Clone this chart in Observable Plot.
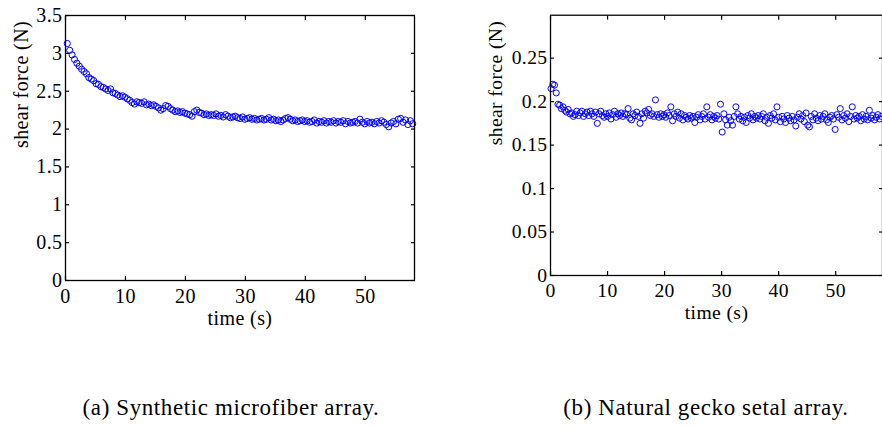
<!DOCTYPE html>
<html>
<head>
<meta charset="utf-8">
<script src="https://cdn.jsdelivr.net/npm/d3@7"></script>
<script src="https://cdn.jsdelivr.net/npm/@observablehq/plot@0.6"></script>
<style>
  html, body { margin: 0; padding: 0; background: #fff; overflow: hidden; }
  #page { position: relative; width: 882px; height: 428px; overflow: hidden; }
  .panel { position: absolute; top: 0; }
  .caption { position: absolute; top: 396px; line-height: 23px; font-family: "Liberation Serif", "Times New Roman", Times, "DejaVu Serif", serif; font-size: 23px; letter-spacing: 0.6px; color: #000; white-space: nowrap; transform: translateX(-50%); }
</style>
</head>
<body>
<div id="page">
  <div id="left" class="panel" style="left:0px"></div>
  <div id="right" class="panel" style="left:441px"></div>
  <div class="caption" style="left:231px">(a) Synthetic microfiber array.</div>
  <div class="caption" style="left:706px">(b) Natural gecko setal array.</div>
</div>
<script>
// ---- Data ----
// Panel (a): sampling grid and shear force values (N)
const aStart = 0.3, aStep = 0.4;
const aForce = [
  3.13, 3.04, 2.98, 2.92, 2.87, 2.83, 2.79, 2.76, 2.73, 2.68,
  2.66, 2.64, 2.60, 2.59, 2.56, 2.55, 2.53, 2.51, 2.53, 2.48,
  2.47, 2.45, 2.43, 2.44, 2.42, 2.40, 2.38, 2.35, 2.33, 2.36,
  2.35, 2.34, 2.36, 2.32, 2.33, 2.31, 2.32, 2.30, 2.28, 2.25,
  2.27, 2.31, 2.30, 2.27, 2.25, 2.23, 2.24, 2.22, 2.23, 2.21,
  2.20, 2.19, 2.17, 2.23, 2.25, 2.22, 2.21, 2.19, 2.20, 2.18,
  2.19, 2.18, 2.20, 2.17, 2.18, 2.16, 2.19, 2.17, 2.15, 2.16,
  2.17, 2.15, 2.14, 2.16, 2.13, 2.14, 2.15, 2.13, 2.14, 2.12,
  2.13, 2.14, 2.12, 2.13, 2.15, 2.12, 2.13, 2.11, 2.12, 2.10,
  2.12, 2.14, 2.15, 2.13, 2.11, 2.12, 2.10, 2.11, 2.12, 2.10,
  2.11, 2.09, 2.10, 2.12, 2.08, 2.10, 2.09, 2.11, 2.08, 2.10,
  2.09, 2.11, 2.08, 2.10, 2.09, 2.11, 2.07, 2.10, 2.08, 2.09,
  2.10, 2.08, 2.13, 2.09, 2.07, 2.10, 2.08, 2.09, 2.07, 2.10,
  2.08, 2.11, 2.09, 2.06, 2.03, 2.08, 2.10, 2.07, 2.13, 2.14,
  2.09, 2.12, 2.06, 2.11, 2.07
];
// Panel (b): sampling grid and shear force values (N)
const bStart = 0.1, bStep = 0.3;
const bForce = [
  0.215, 0.220, 0.219, 0.210, 0.197, 0.196, 0.192, 0.194, 0.190, 0.188,
  0.191, 0.186, 0.187, 0.183, 0.185, 0.189, 0.184, 0.187, 0.189, 0.183,
  0.186, 0.188, 0.184, 0.189, 0.186, 0.183, 0.188, 0.175, 0.186, 0.189,
  0.184, 0.182, 0.186, 0.183, 0.187, 0.180, 0.185, 0.189, 0.182, 0.186,
  0.184, 0.187, 0.183, 0.186, 0.185, 0.192, 0.181, 0.179, 0.186, 0.184,
  0.188, 0.183, 0.175, 0.186, 0.181, 0.189, 0.187, 0.191, 0.184, 0.186,
  0.183, 0.202, 0.185, 0.182, 0.186, 0.183, 0.185, 0.182, 0.187, 0.184,
  0.194, 0.178, 0.186, 0.183, 0.188, 0.181, 0.186, 0.179, 0.184, 0.182,
  0.180, 0.184, 0.181, 0.183, 0.176, 0.182, 0.185, 0.179, 0.183, 0.186,
  0.180, 0.194, 0.182, 0.185, 0.179, 0.183, 0.181, 0.184, 0.180, 0.197,
  0.165, 0.186, 0.179, 0.173, 0.182, 0.178, 0.173, 0.183, 0.194, 0.186,
  0.180, 0.183, 0.178, 0.182, 0.176, 0.184, 0.181, 0.186, 0.179, 0.183,
  0.181, 0.184, 0.180, 0.183, 0.186, 0.178, 0.182, 0.175, 0.184, 0.181,
  0.186, 0.179, 0.194, 0.182, 0.177, 0.183, 0.180, 0.176, 0.184, 0.181,
  0.178, 0.183, 0.179, 0.172, 0.182, 0.186, 0.180, 0.184, 0.177, 0.187,
  0.173, 0.171, 0.183, 0.179, 0.186, 0.181, 0.178, 0.184, 0.180, 0.183,
  0.186, 0.179, 0.176, 0.182, 0.184, 0.180, 0.168, 0.185, 0.182, 0.192,
  0.179, 0.184, 0.181, 0.186, 0.177, 0.183, 0.194, 0.180, 0.184, 0.181,
  0.183, 0.178, 0.185, 0.180, 0.183, 0.179, 0.190, 0.181, 0.184, 0.179,
  0.182, 0.185, 0.180, 0.183
];
// Axis ticks and labels
const xTicks = [0, 10, 20, 30, 40, 50];
const xDomain = [0, 58.2];
const aYTicks = [0, 0.5, 1, 1.5, 2, 2.5, 3, 3.5];
const aYDomain = [0, 3.5];
const bYTicks = [0, 0.05, 0.1, 0.15, 0.2, 0.25];
const bYDomain = [0, 0.2994];
const xLabel = "time (s)";
const yLabel = "shear force (N)";

const aData = aForce.map((v, i) => ({t: +(aStart + i * aStep).toFixed(2), f: v}));
const bData = bForce.map((v, i) => ({t: +(bStart + i * bStep).toFixed(2), f: v}));

const serif = "'Liberation Serif', 'Times New Roman', Times, 'DejaVu Serif', serif";

function panel({data, yTicks, yDomain, width, marginLeft, marginRight, yLabelDx}) {
  return Plot.plot({
    width, height: 330,
    marginLeft, marginRight, marginTop: 15, marginBottom: 50,
    x: {domain: xDomain},
    y: {domain: yDomain},
    style: {fontFamily: serif, fontSize: "20px", color: "#000", background: "transparent", overflow: "visible", letterSpacing: "0.4px"},
    marks: [
      Plot.dot(data, {x: "t", y: "f", r: 3.1, stroke: "#0000ff", strokeWidth: 1, fill: "none"}),
      Plot.frame({stroke: "#000", strokeWidth: 1.3}),
      // inward ticks on all four sides
      Plot.axisX({ticks: xTicks, tickSize: -4, text: null, label: null, strokeWidth: 1.2}),
      Plot.axisX({anchor: "top", ticks: xTicks, tickSize: -4, text: null, label: null, strokeWidth: 1.2}),
      Plot.axisY({ticks: yTicks, tickSize: -4, text: null, label: null, strokeWidth: 1.2}),
      Plot.axisY({anchor: "right", ticks: yTicks, tickSize: -4, text: null, label: null, strokeWidth: 1.2}),
      // tick labels
      Plot.axisX({ticks: xTicks, tickSize: 0, tickPadding: 8, tickFormat: d => String(d), label: null, fill: "#000", fontFamily: serif}),
      Plot.axisY({ticks: yTicks, tickSize: 0, tickPadding: 3, tickFormat: d => String(d), label: null, fill: "#000", fontFamily: serif}),
      // axis titles
      Plot.text([xLabel], {frameAnchor: "bottom", lineAnchor: "bottom", dy: 44.5, fill: "#000", fontFamily: serif}),
      Plot.text([yLabel], {frameAnchor: "left", rotate: -90, lineAnchor: "middle", dx: yLabelDx, fill: "#000", fontFamily: serif})
    ]
  });
}

document.getElementById("left").append(panel({
  data: aData, yTicks: aYTicks, yDomain: aYDomain,
  width: 441, marginLeft: 65, marginRight: 27, yLabelDx: -44
}));
document.getElementById("right").append(panel({
  data: bData, yTicks: bYTicks, yDomain: bYDomain,
  width: 449, marginLeft: 111, marginRight: 0, yLabelDx: -56
}));
</script>
</body>
</html>
